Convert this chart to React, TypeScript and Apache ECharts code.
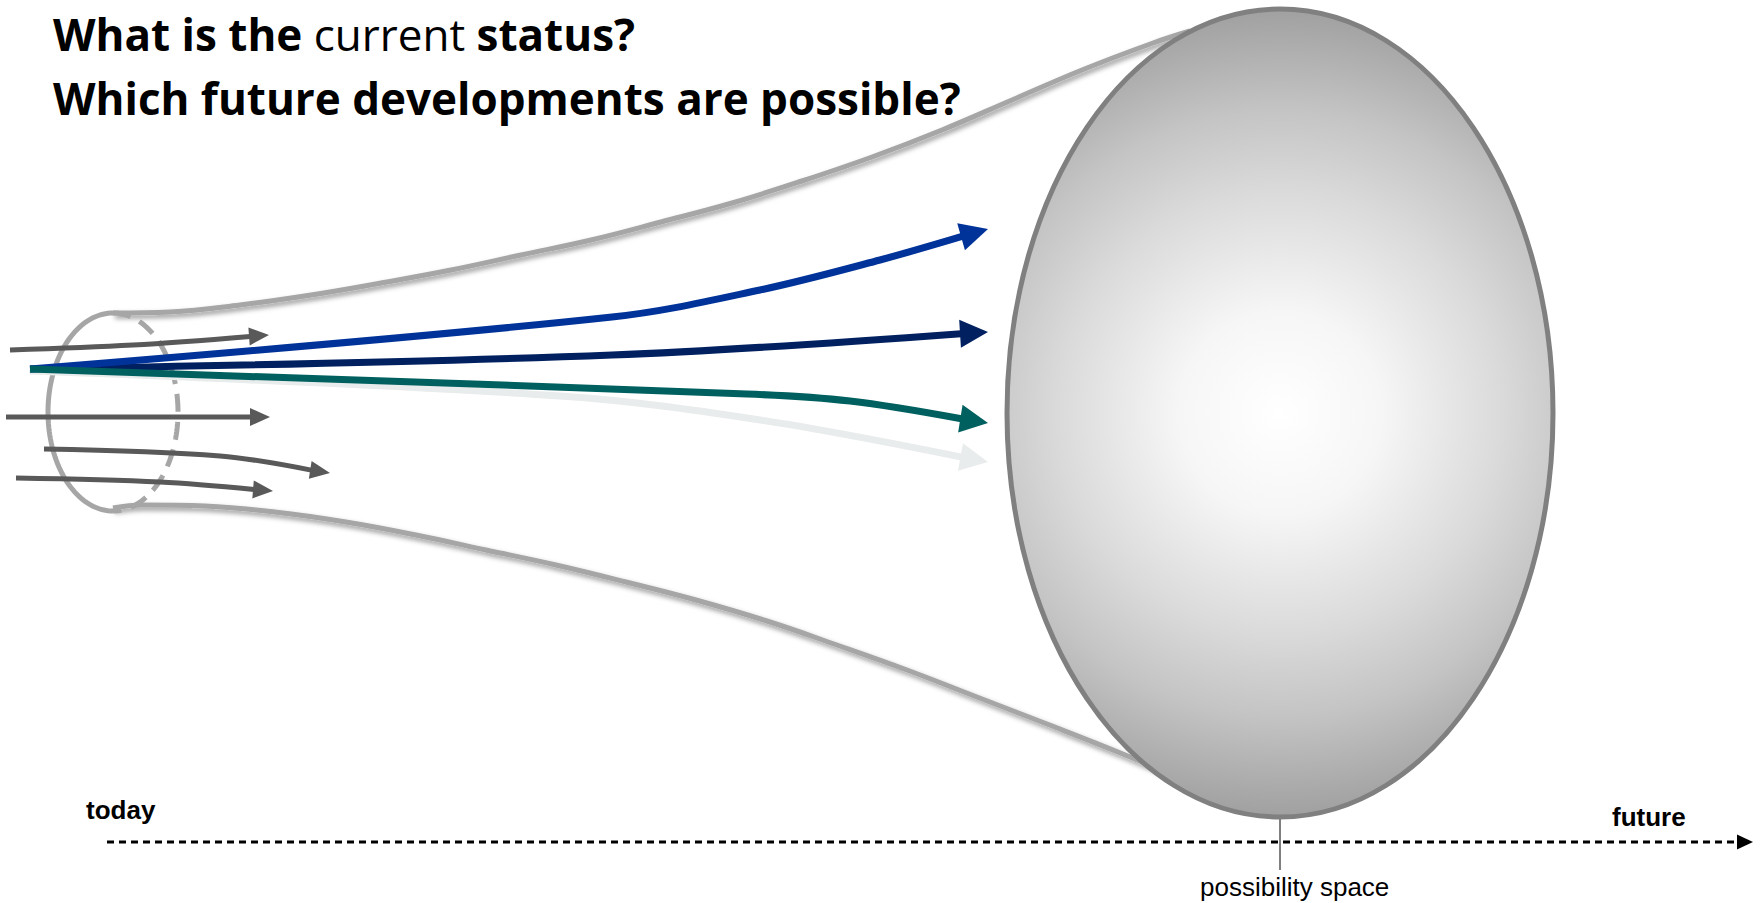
import React, { useEffect, useRef } from "react";
import * as echarts from "echarts";

// ---------- texts ----------
const titleLine1Parts = ["What is the ", "current ", "status?"];
const titleLine2 = "Which future developments are possible?";
const timeLabels = ["today", "future"];
const spaceLabel = "possibility space";

// ---------- geometry (diagram units, x to the right, y downwards) ----------
const bigEllipseCenter = [1280, 413];
const bigEllipseRadii = [273, 404];
const smallEllipseCenter = [113, 412];
const smallEllipseRadii = [65, 99];

const funnelTop = [
  [113, 313], [170, 312], [240, 305], [311, 295], [381, 283], [451, 270],
  [521, 255], [591, 240], [661, 222], [732, 203], [802, 181], [872, 157],
  [942, 130], [1012, 100], [1082, 70], [1153, 43], [1190, 31],
];
const funnelBottom = [
  [113, 508], [142, 505], [205, 506], [275, 512], [346, 522], [416, 535],
  [486, 550], [556, 565], [626, 582], [696, 600], [767, 621], [837, 645],
  [907, 670], [977, 697], [1047, 724], [1118, 752], [1170, 774],
];

// future development arrows (start -> tip)
const lightArrow = [[30, 371], [560, 396], [760, 420], [988, 462]];
const navyArrow = [[30, 369], [612, 355], [988, 332]];
const blueArrow = [[30, 369], [612, 317], [760, 290], [880, 260], [988, 229]];
const tealArrow = [[30, 369], [747, 394], [850, 401], [988, 423]];
const coloredArrows = [lightArrow, navyArrow, blueArrow, tealArrow];
const coloredArrowColors = ["#e9ecec", "#002060", "#003399", "#00605f"];

// current trends arrows
const grayArrow1 = [[10, 350], [133, 345], [269, 335]];
const grayArrow2 = [[6, 417], [270, 417]];
const grayArrow3 = [[44, 449], [220, 456], [330, 473]];
const grayArrow4 = [[16, 478], [160, 482], [273, 491]];
const grayArrows = [grayArrow1, grayArrow2, grayArrow3, grayArrow4];

// time axis
const timeAxisLine = [[107, 842], [1753, 842]];
const spaceMarker = [[1280, 817], [1280, 870]];

const W = 1761;
const H = 903;

function arrowRenderer(
  paths: number[][][],
  colors: string[],
  width: number,
  headLen: number,
  headHalf: number,
  dash?: number[]
) {
  return (params: any, api: any) => {
    const i = params.dataIndex;
    const pts = paths[i].map((p) => api.coord(p));
    const n = pts.length;
    const tip = pts[n - 1];
    const prev = pts[n - 2];
    let dx = tip[0] - prev[0];
    let dy = tip[1] - prev[1];
    const len = Math.hypot(dx, dy) || 1;
    dx /= len;
    dy /= len;
    const base = [tip[0] - dx * headLen, tip[1] - dy * headLen];
    const shaft = pts.slice(0, n - 1).concat([[base[0] + dx * 1, base[1] + dy * 1]]);
    const color = colors[i % colors.length];
    return {
      type: "group",
      children: [
        {
          type: "polyline",
          shape: { points: shaft, smooth: n > 2 ? 0.35 : 0 },
          style: {
            stroke: color,
            lineWidth: width,
            fill: null,
            lineDash: dash || null,
            lineCap: "butt",
          },
        },
        {
          type: "polygon",
          shape: {
            points: [
              tip,
              [base[0] - dy * headHalf, base[1] + dx * headHalf],
              [base[0] + dy * headHalf, base[1] - dx * headHalf],
            ],
          },
          style: { fill: color },
        },
      ],
    };
  };
}

function buildOption() {
  const boldRich = {
    fontFamily: "Open Sans",
    fontWeight: 700,
    fontSize: 44,
    lineHeight: 44,
    color: "#000",
  };
  const regRich = { ...boldRich, fontWeight: 400 };
  const funnelLineStyle = {
    color: "#a6a6a6",
    width: 5,
    shadowColor: "rgba(0,0,0,0.4)",
    shadowBlur: 5,
    shadowOffsetX: 2,
    shadowOffsetY: 3,
  };

  return {
    animation: false,
    title: [
      {
        text: `{b|${titleLine1Parts[0]}}{r|${titleLine1Parts[1]}}{b|${titleLine1Parts[2]}}`,
        left: 53,
        top: 12,
        padding: 0,
        textStyle: { rich: { b: boldRich, r: regRich } },
      },
      {
        text: `{b|${titleLine2}}`,
        left: 53,
        top: 76,
        padding: 0,
        textStyle: { rich: { b: boldRich } },
      },
    ],
    grid: { left: 0, right: 0, top: 0, bottom: 0 },
    xAxis: { type: "value", min: 0, max: W, show: false },
    yAxis: { type: "value", min: 0, max: H, inverse: true, show: false },
    graphic: [
      {
        type: "text",
        left: 86,
        top: 797,
        style: {
          text: timeLabels[0],
          fontFamily: "Liberation Sans",
          fontWeight: 700,
          fontSize: 26,
          fill: "#000",
        },
      },
      {
        type: "text",
        left: 1612,
        top: 804,
        style: {
          text: timeLabels[1],
          fontFamily: "Liberation Sans",
          fontWeight: 700,
          fontSize: 26,
          fill: "#000",
        },
      },
      {
        type: "text",
        left: 1200,
        top: 874,
        style: {
          text: spaceLabel,
          fontFamily: "Liberation Sans",
          fontWeight: 400,
          fontSize: 26,
          fill: "#000",
        },
      },
    ],
    series: [
      {
        type: "line",
        data: funnelTop,
        smooth: 0.4,
        symbol: "none",
        silent: true,
        z: 1,
        lineStyle: funnelLineStyle,
      },
      {
        type: "line",
        data: funnelBottom,
        smooth: 0.4,
        symbol: "none",
        silent: true,
        z: 1,
        lineStyle: funnelLineStyle,
      },
      {
        type: "line",
        data: spaceMarker,
        symbol: "none",
        silent: true,
        z: 1,
        lineStyle: { color: "#000", width: 1 },
      },
      {
        type: "custom",
        z: 2,
        silent: true,
        data: [[...bigEllipseCenter, ...bigEllipseRadii]],
        encode: { x: 0, y: 1 },
        renderItem: (params: any, api: any) => {
          const c = api.coord([api.value(0), api.value(1)]);
          const e = api.coord([api.value(0) + api.value(2), api.value(1) + api.value(3)]);
          const rx = Math.abs(e[0] - c[0]);
          const ry = Math.abs(e[1] - c[1]);
          return {
            type: "ellipse",
            shape: { cx: c[0], cy: c[1], rx, ry },
            style: {
              fill: new echarts.graphic.RadialGradient(
                c[0],
                c[1],
                ry,
                [
                  { offset: 0, color: "#ffffff" },
                  { offset: 0.25, color: "#f6f6f6" },
                  { offset: 0.55, color: "#dadada" },
                  { offset: 0.75, color: "#c4c4c4" },
                  { offset: 1, color: "#a0a0a0" },
                ],
                true
              ),
              stroke: "#808080",
              lineWidth: 5,
            },
          };
        },
      },
      {
        type: "custom",
        z: 3,
        silent: true,
        data: [[...smallEllipseCenter, ...smallEllipseRadii]],
        encode: { x: 0, y: 1 },
        renderItem: (params: any, api: any) => {
          const c = api.coord([api.value(0), api.value(1)]);
          const e = api.coord([api.value(0) + api.value(2), api.value(1) + api.value(3)]);
          const rx = Math.abs(e[0] - c[0]);
          const ry = Math.abs(e[1] - c[1]);
          const arc = (a0: number, a1: number) => {
            const out: number[][] = [];
            const N = 80;
            for (let k = 0; k <= N; k++) {
              const t = a0 + ((a1 - a0) * k) / N;
              out.push([c[0] + rx * Math.cos(t), c[1] + ry * Math.sin(t)]);
            }
            return out;
          };
          return {
            type: "group",
            children: [
              {
                type: "polyline",
                shape: { points: arc(Math.PI / 2, (3 * Math.PI) / 2) },
                style: { stroke: "#a6a6a6", lineWidth: 5, fill: null },
              },
              {
                type: "polyline",
                shape: { points: arc(-Math.PI / 2, Math.PI / 2) },
                style: { stroke: "#a6a6a6", lineWidth: 5, fill: null, lineDash: [18, 10] },
              },
            ],
          };
        },
      },
      {
        type: "custom",
        z: 4,
        silent: true,
        data: grayArrows.map((p, i) => [p[p.length - 1][0], p[p.length - 1][1], i]),
        encode: { x: 0, y: 1 },
        renderItem: arrowRenderer(grayArrows, ["#595959"], 5, 20, 9),
      },
      {
        type: "custom",
        z: 5,
        silent: true,
        data: coloredArrows.map((p, i) => [p[p.length - 1][0], p[p.length - 1][1], i]),
        encode: { x: 0, y: 1 },
        renderItem: arrowRenderer(coloredArrows, coloredArrowColors, 7, 28, 14),
      },
      {
        type: "custom",
        z: 5,
        silent: true,
        data: [[timeAxisLine[1][0], timeAxisLine[1][1], 0]],
        encode: { x: 0, y: 1 },
        renderItem: arrowRenderer([timeAxisLine], ["#000000"], 3, 16, 7.5, [7, 5]),
      },
    ],
  };
}

export default function App() {
  const ref = useRef<HTMLDivElement | null>(null);
  useEffect(() => {
    if (!ref.current) return;
    const chart = echarts.init(ref.current, null, { renderer: "svg" });
    chart.setOption(buildOption() as any);
    return () => chart.dispose();
  }, []);
  return (
    <div
      ref={ref}
      style={{ position: "fixed", left: 0, top: 0, width: W, height: H, background: "#fff" }}
    />
  );
}
